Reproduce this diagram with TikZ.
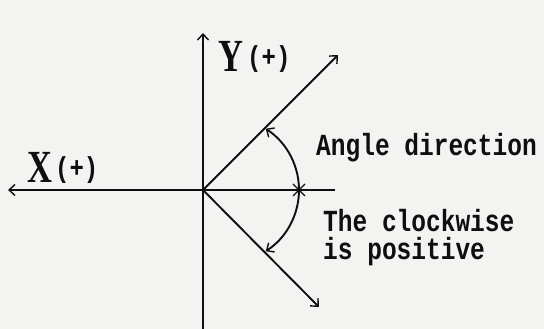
\documentclass[tikz,border=0pt]{standalone}
\usepackage{fontspec}
\setmainfont{Liberation Serif}
\newfontfamily\monof{Liberation Mono}
\usetikzlibrary{arrows.meta}
\definecolor{paper}{RGB}{243,243,241}
\definecolor{ink}{RGB}{15,15,15}
\tikzset{
  axisline/.style={line width=1.9pt, draw=ink},
  barb/.tip={Straight Barb[length=6pt,width=11pt,line width=1.4pt]},
  opentip/.style={-barb},
  labelmono/.style={inner sep=0pt, anchor=base west, font=\monof\bfseries\fontsize{24.5}{30}\selectfont, text=ink},
  bigletter/.style={inner sep=0pt, anchor=base west, font=\bfseries\fontsize{46}{46}\selectfont, text=ink},
  sign/.style={inner sep=0pt, anchor=base west, font=\monof\bfseries\fontsize{24}{24}\selectfont, text=ink}
}
\begin{document}
\begin{tikzpicture}[x=1pt,y=1pt]
\fill[paper] (0,0) rectangle (544,329);
\useasboundingbox (0,0) rectangle (544,329);
\coordinate (O) at (203,139);
\coordinate (xl) at (8,139);
\coordinate (xr) at (335,139);
\coordinate (yt) at (203,296);
\coordinate (yb) at (203,0);
\coordinate (up) at (338,274);
\coordinate (lo) at (319,22);
\coordinate (ac) at (226,139);
\draw[axisline, opentip] (xr) -- (xl);
\draw[axisline, opentip] (yb) -- (yt);
\draw[axisline, opentip] (O) -- (up);
\draw[axisline, opentip] (O) -- (lo);
% angle arc
\coordinate (as) at ([shift={(57:73pt)}]ac);
\draw[axisline, barb-barb] (as) arc[start angle=57, end angle=-57, radius=73pt];
\coordinate (cm) at ([shift={(0:73pt)}]ac);
\draw[line width=1.4pt, ink] ([shift={(-6pt,-6pt)}]cm) -- ([shift={(6pt,6pt)}]cm);
\draw[line width=1.4pt, ink] ([shift={(-6pt,6pt)}]cm) -- ([shift={(6pt,-6pt)}]cm);
% labels
\node[bigletter] (Y) at (218,257) {\scalebox{0.75}[1]{Y}};
\node[sign] (Yp) at (247,262) {\scalebox{1}[1.2]{(+)}};
\node[bigletter] (X) at (27,146) {\scalebox{0.75}[1]{X}};
\node[sign] (Xp) at (55,151) {\scalebox{1}[1.2]{(+)}};
\node[labelmono] (ang) at (316,173) {\scalebox{1}[1.25]{Angle direction}};
\node[labelmono] (cw1) at (323,97) {\scalebox{1}[1.25]{The clockwise}};
\node[labelmono] (cw2) at (323,69) {\scalebox{1}[1.25]{is positive}};
\end{tikzpicture}
\end{document}
